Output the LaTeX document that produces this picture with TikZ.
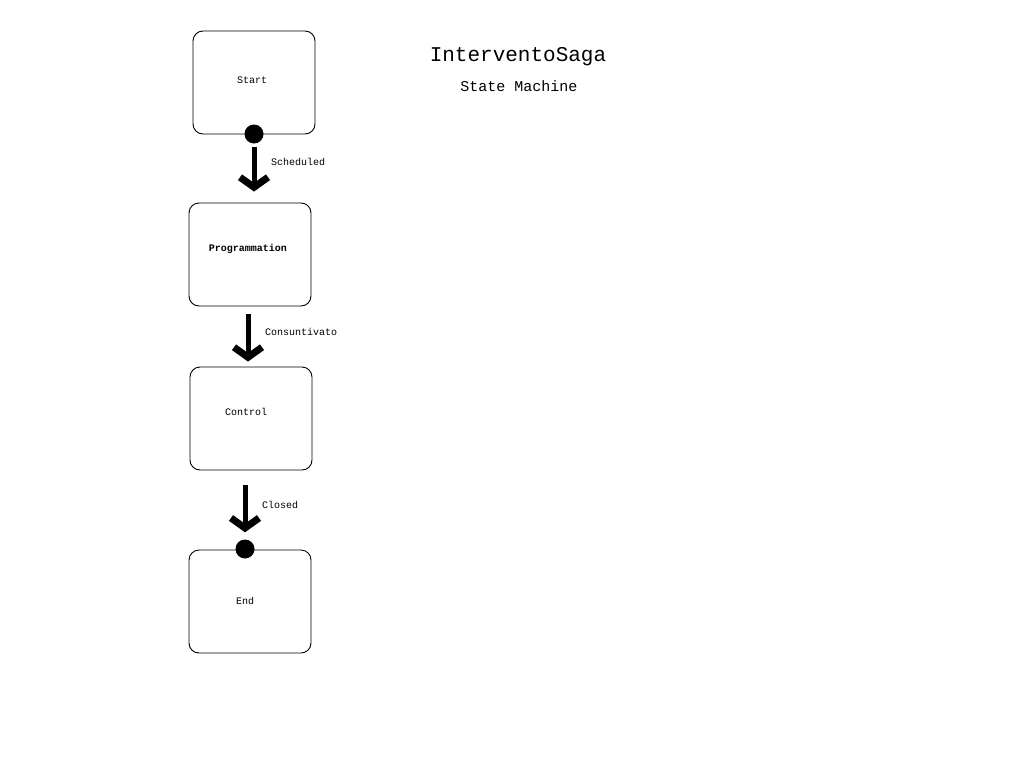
\documentclass[tikz,border=0pt]{standalone}
\usepackage{fontspec}
\setmainfont{Liberation Mono}
\usetikzlibrary{arrows.meta,calc}
\begin{document}
\begin{tikzpicture}[x=1pt,y=-1pt,
  state/.style={draw=black,line width=0.9pt,rounded corners=10pt,
    minimum width=122pt,minimum height=103pt,inner sep=0pt},
  statetext/.style={font=\fontsize{10}{12}\selectfont,inner sep=0pt},
  trans/.style={line width=5pt,-{Straight Barb[length=10pt,width=28pt,line width=7pt]}},
  translabel/.style={font=\fontsize{10}{12}\selectfont,anchor=west,inner sep=0pt},
  pseudo/.style={circle,fill=black,minimum size=19pt,inner sep=0pt}]
\useasboundingbox (0,0) rectangle (1024,768);

% title
\node[font=\fontsize{21}{24}\selectfont,inner sep=0pt] (title) at (518,57) {InterventoSaga};
\node[font=\fontsize{15}{18}\selectfont,inner sep=0pt] (subtitle) at (519,86) {State Machine};

% states
\node[state] (start) at (254,82.5) {};
\node[state] (prog) at (250,254.5) {};
\node[state] (ctrl) at (251,418.5) {};
\node[state] (stop) at (250,601.5) {};

\node[statetext] (starttxt) at (252,80) {Start};
\node[statetext,font=\fontsize{10}{12}\selectfont\bfseries] (progtxt) at (248,249) {Programmation};
\node[statetext] (ctrltxt) at (246,412) {Control};
\node[statetext] (stoptxt) at (245,601) {End};

% initial and final markers
\node[pseudo] (init) at (254,134) {};
\node[pseudo] (final) at (245,549) {};

% transitions
\draw[trans,shorten <=3pt,shorten >=11pt] (init.south) -- (init.south |- prog.north);
\coordinate (c2a) at ($(prog.south)+(-2,8)$);
\coordinate (c2b) at (c2a |- ctrl.north);
\draw[trans,shorten >=5pt] (c2a) -- (c2b);
\coordinate (c3a) at ($(ctrl.south)+(-6,15)$);
\draw[trans,shorten >=7pt] (c3a) -- (final.north);

\node[translabel] (l1) at (271,162) {Scheduled};
\node[translabel] (l2) at (265,332) {Consuntivato};
\node[translabel] (l3) at (262,505) {Closed};
\end{tikzpicture}
\end{document}
